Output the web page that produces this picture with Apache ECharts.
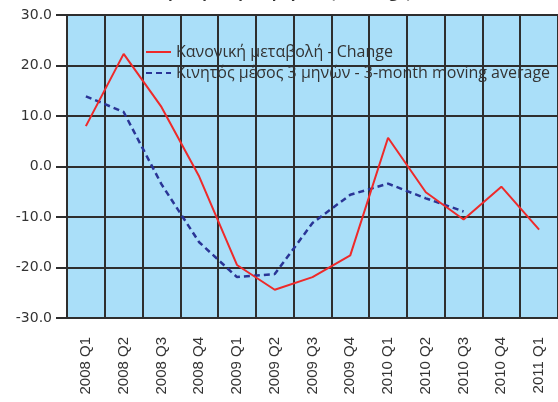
<!DOCTYPE html>
<html>
<head>
<meta charset="utf-8">
<style>
  html, body { margin: 0; padding: 0; background: #ffffff; }
  #chart { width: 558px; height: 402px; }
</style>
<script src="https://cdn.jsdelivr.net/npm/echarts@6/dist/echarts.min.js"></script>
</head>
<body>
<div id="chart"></div>
<script>
// Quarterly periods
const quarters = ['2008 Q1', '2008 Q2', '2008 Q3', '2008 Q4',
                  '2009 Q1', '2009 Q2', '2009 Q3', '2009 Q4',
                  '2010 Q1', '2010 Q2', '2010 Q3', '2010 Q4', '2011 Q1'];

// Percentage change per quarter
const changeValues = [8.0, 22.3, 11.8, -2.0, -19.5, -24.4, -21.9, -17.6, 5.7, -5.1, -10.5, -4.0, -12.5];

// 3-month moving average (no value for the last two quarters)
const movingAvgValues = [13.9, 10.8, -3.5, -15.0, -21.9, -21.3, -11.2, -5.6, -3.4, -6.3, -8.9, null, null];

// Y axis range and step
const yMin = -30, yMax = 30, yStep = 10;

const seriesNames = ['Κανονική μεταβολή - Change', 'Κινητός μέσος 3 μηνών - 3-month moving average'];
const titleText = 'Ετήσια μεταβολή όγκου (% change)';

const gridColor = '#2e2e2e';

const chart = echarts.init(document.getElementById('chart'), null, { renderer: 'canvas' });

chart.setOption({
  animation: false,
  backgroundColor: '#ffffff',
  title: {
    text: titleText,
    left: 'center',
    top: -19,
    textStyle: { fontFamily: 'Open Sans', fontSize: 15, fontWeight: 'bold', color: '#333' }
  },
  grid: {
    left: 67, right: 0, top: 15, bottom: 84,
    show: true,
    backgroundColor: '#aadff9',
    borderWidth: 0
  },
  legend: {
    left: 140, top: 39,
    orient: 'vertical',
    itemGap: 5,
    itemWidth: 25, itemHeight: 18,
    textStyle: { fontFamily: 'Open Sans', fontSize: 16, color: '#333' },
    data: seriesNames.map(n => ({ name: n, itemStyle: { opacity: 0 } }))
  },
  xAxis: {
    type: 'category',
    data: quarters,
    boundaryGap: true,
    axisLine: { show: true, lineStyle: { color: gridColor, width: 2 } },
    axisTick: { show: true, length: 2, lineStyle: { color: gridColor, width: 2 } },
    splitLine: { show: true, lineStyle: { color: gridColor, width: 2 } },
    axisLabel: {
      rotate: 90,
      margin: 19,
      fontFamily: 'Liberation Sans',
      fontSize: 15,
      color: '#333'
    }
  },
  yAxis: {
    type: 'value',
    min: yMin, max: yMax, interval: yStep,
    axisLine: { show: true, lineStyle: { color: gridColor, width: 2 } },
    axisTick: { show: true, length: 11, lineStyle: { color: gridColor, width: 2 } },
    splitLine: { show: true, lineStyle: { color: gridColor, width: 2 } },
    axisLabel: {
      margin: 15,
      fontFamily: 'DejaVu Sans',
      fontSize: 14,
      color: '#333',
      formatter: v => v.toFixed(1)
    }
  },
  series: [
    {
      name: seriesNames[0],
      type: 'line',
      data: changeValues,
      symbol: 'none',
      lineStyle: { color: '#ee2a2a', width: 2 },
      itemStyle: { color: '#ee2a2a' },
      z: 3
    },
    {
      name: seriesNames[1],
      type: 'line',
      data: movingAvgValues,
      symbol: 'none',
      connectNulls: false,
      lineStyle: { color: '#2a3596', width: 2.5, type: [6, 4] },
      itemStyle: { color: '#2a3596' },
      z: 2
    }
  ]
});
</script>
</body>
</html>
